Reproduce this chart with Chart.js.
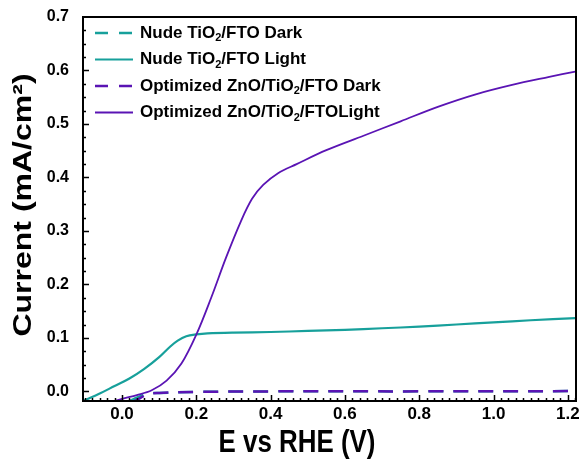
<!DOCTYPE html>
<html>
<head>
<meta charset="utf-8">
<script src="https://cdn.jsdelivr.net/npm/chart.js@4.4.1/dist/chart.umd.min.js"></script>
<style>
  html, body { margin: 0; padding: 0; background: #fff; }
  #wrap { width: 579px; height: 465px; position: relative; }
</style>
</head>
<body>
<div id="wrap"><canvas id="ivChart"></canvas></div>
<script>
const FONT = '"Liberation Sans", Arial, sans-serif';
const TEAL = '#17a09b';
const PURPLE = '#5a14b4';

// axis ticks
const xTicks = [0.0, 0.2, 0.4, 0.6, 0.8, 1.0, 1.2];
const yTicks = [0.0, 0.1, 0.2, 0.3, 0.4, 0.5, 0.6, 0.7];

// series labels
const labels = [
  'Nude TiO₂/FTO Dark',
  'Nude TiO₂/FTO Light',
  'Optimized ZnO/TiO₂/FTO Dark',
  'Optimized ZnO/TiO₂/FTOLight'
];

// Nude TiO2/FTO, dark
const nudeDarkV = [-0.1, -0.02, 0.03, 0.07, 0.1, 0.2, 0.4, 0.8, 1.22];
const nudeDarkI = [-0.05, -0.03, -0.015, -0.004, -0.003, -0.001, 0.0, 0.0, 0.0005];

// Nude TiO2/FTO, light
const nudeLightV = [-0.105, -0.06, -0.02, 0.02, 0.06, 0.1, 0.13, 0.15, 0.173, 0.2, 0.23, 0.3, 0.4, 0.5, 0.6, 0.7, 0.8, 0.9, 1.0, 1.1, 1.22];
const nudeLightI = [-0.018, -0.004, 0.01, 0.024, 0.042, 0.064, 0.084, 0.095, 0.103, 0.1065, 0.1085, 0.110, 0.111, 0.113, 0.115, 0.118, 0.121, 0.125, 0.129, 0.133, 0.137];

// Optimized ZnO/TiO2/FTO, dark
const optDarkV = [-0.1, 0.0, 0.05, 0.07, 0.1, 0.2, 0.4, 0.8, 1.22];
const optDarkI = [-0.06, -0.03, -0.012, -0.005, -0.003, -0.001, 0.0, 0.0, 0.0005];

// Optimized ZnO/TiO2/FTO, light
const optLightV = [-0.08, -0.04, 0.0, 0.04, 0.08, 0.12, 0.16, 0.2, 0.24, 0.28, 0.32, 0.35, 0.38, 0.42, 0.47, 0.55, 0.65, 0.75, 0.85, 0.95, 1.05, 1.15, 1.22];
const optLightI = [-0.03, -0.022, -0.014, -0.007, 0.002, 0.02, 0.052, 0.106, 0.175, 0.25, 0.318, 0.36, 0.386, 0.408, 0.425, 0.451, 0.478, 0.505, 0.532, 0.555, 0.573, 0.588, 0.598];

function toPoints(xs, ys) {
  return xs.map((x, i) => ({ x: x, y: ys[i] }));
}

// draws a legend label with a real subscript 2
function drawLegendLabel(ctx, text, x, y) {
  const parts = text.split('₂');
  let cx = x;
  parts.forEach((part, i) => {
    ctx.font = 'bold 17px ' + FONT;
    ctx.fillText(part, cx, y);
    cx += ctx.measureText(part).width;
    if (i < parts.length - 1) {
      ctx.font = 'bold 11px ' + FONT;
      ctx.fillText('2', cx, y + 5);
      cx += ctx.measureText('2').width;
    }
  });
}

const framePlugin = {
  id: 'framePlugin',
  afterDraw(chart) {
    const ctx = chart.ctx;
    const area = chart.chartArea;
    const xs = chart.scales.x;
    const ys = chart.scales.y;
    ctx.save();

    // inward ticks
    ctx.strokeStyle = '#000';
    ctx.lineWidth = 1.5;
    ctx.beginPath();
    for (let i = Math.ceil(xs.min / 0.02); i <= Math.floor(xs.max / 0.02); i++) {
      const px = Math.round(xs.getPixelForValue(i * 0.02)) + 0.5;
      const len = i % 10 === 0 ? 6 : 3;
      ctx.moveTo(px, area.bottom);
      ctx.lineTo(px, area.bottom - len);
    }
    for (let i = Math.ceil(ys.min / 0.025); i <= Math.floor(ys.max / 0.025); i++) {
      const py = Math.round(ys.getPixelForValue(i * 0.025)) + 0.5;
      const len = i % 4 === 0 ? 6 : 3;
      ctx.moveTo(area.left, py);
      ctx.lineTo(area.left + len, py);
    }
    ctx.stroke();

    // frame
    ctx.lineWidth = 2;
    ctx.strokeRect(area.left, area.top, area.right - area.left, area.bottom - area.top);

    // legend
    const rowGap = 26.5;
    ctx.textBaseline = 'middle';
    ctx.textAlign = 'left';
    ctx.fillStyle = '#000';
    chart.data.datasets.forEach((ds, i) => {
      const ry = area.top + 16 + i * rowGap;
      ctx.beginPath();
      ctx.strokeStyle = ds.borderColor;
      ctx.lineWidth = ds.borderWidth;
      ctx.setLineDash(ds.borderDash && ds.borderDash.length ? [13, 11] : []);
      ctx.moveTo(area.left + 12, ry);
      ctx.lineTo(area.left + 50, ry);
      ctx.stroke();
      ctx.setLineDash([]);
      drawLegendLabel(ctx, ds.label, area.left + 57, ry);
    });

    // axis titles
    ctx.fillStyle = '#000';
    ctx.textAlign = 'center';
    ctx.textBaseline = 'middle';
    ctx.font = 'bold 32px ' + FONT;
    ctx.save();
    ctx.translate(297, 443);
    ctx.scale(0.81, 1);
    ctx.fillText('E vs RHE (V)', 0, 0);
    ctx.restore();

    ctx.save();
    ctx.translate(24, 205);
    ctx.scale(0.81, 1);
    ctx.rotate(-Math.PI / 2);
    ctx.fillText('Current (mA/cm²)', 0, 0);
    ctx.restore();

    ctx.restore();
  }
};

const ctx = document.getElementById('ivChart').getContext('2d');
new Chart(ctx, {
  type: 'line',
  data: {
    datasets: [
      {
        label: labels[0],
        data: toPoints(nudeDarkV, nudeDarkI),
        borderColor: TEAL,
        borderWidth: 2.5,
        borderDash: [15, 10],
        borderDashOffset: 2,
        order: 3
      },
      {
        label: labels[1],
        data: toPoints(nudeLightV, nudeLightI),
        borderColor: TEAL,
        borderWidth: 2.2,
        borderDash: [],
        order: 2
      },
      {
        label: labels[2],
        data: toPoints(optDarkV, optDarkI),
        borderColor: PURPLE,
        borderWidth: 2.5,
        borderDash: [15, 10],
        order: 1
      },
      {
        label: labels[3],
        data: toPoints(optLightV, optLightI),
        borderColor: PURPLE,
        borderWidth: 1.8,
        borderDash: [],
        order: 0
      }
    ]
  },
  options: {
    responsive: true,
    maintainAspectRatio: false,
    animation: false,
    layout: { padding: { top: 17, right: 3, left: 0, bottom: 0 } },
    elements: {
      point: { radius: 0 },
      line: { tension: 0.35, fill: false }
    },
    scales: {
      x: {
        type: 'linear',
        min: -0.105,
        max: 1.222,
        grid: { display: false, drawTicks: false },
        border: { display: false },
        afterBuildTicks: scale => { scale.ticks = xTicks.map(v => ({ value: v })); },
        afterFit: scale => {
          scale.height = 64;
          scale.paddingLeft = 0;
          scale.paddingRight = 0;
        },
        ticks: {
          color: '#000',
          padding: 3,
          maxRotation: 0,
          font: { family: FONT, size: 17, weight: 'bold' },
          callback: v => Number(v).toFixed(1)
        }
      },
      y: {
        type: 'linear',
        min: -0.018,
        max: 0.7,
        grid: { display: false, drawTicks: false },
        border: { display: false },
        afterBuildTicks: scale => { scale.ticks = yTicks.map(v => ({ value: v })); },
        afterFit: scale => {
          scale.width = 83;
          scale.paddingTop = 0;
          scale.paddingBottom = 0;
        },
        ticks: {
          color: '#000',
          padding: 14,
          font: { family: FONT, size: 16, weight: 'bold' },
          callback: v => Number(v).toFixed(1)
        }
      }
    },
    plugins: {
      legend: { display: false },
      tooltip: { enabled: false }
    }
  },
  plugins: [framePlugin]
});
</script>
</body>
</html>
